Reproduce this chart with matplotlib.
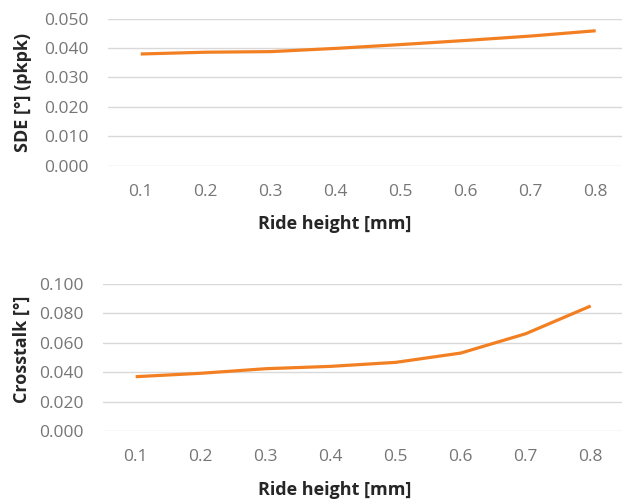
import matplotlib.pyplot as plt
import numpy as np

plt.rcParams['font.family'] = ['Open Sans', 'DejaVu Sans']

# Data
ride_height = ['0.1', '0.2', '0.3', '0.4', '0.5', '0.6', '0.7', '0.8']
sde = [0.0380, 0.0386, 0.0388, 0.0399, 0.0412, 0.0426, 0.0441, 0.0459]
crosstalk = [0.0370, 0.0393, 0.0424, 0.0440, 0.0467, 0.0530, 0.0661, 0.0849]

orange = '#F28022'
grid_col = '#D9D9D9'
tick_col = '#767676'
label_col = '#262626'

W, H = 622, 500
fig = plt.figure(figsize=(W / 100, H / 100), dpi=100)
# axes placed in pixels (plot area runs a little past the right edge)
ax1 = fig.add_axes([108.2 / W, 1 - 165.7 / H, 520 / W, 147 / H])
ax2 = fig.add_axes([103.2 / W, 1 - 431.3 / H, 520 / W, 147.6 / H])

x = np.arange(len(ride_height))


def style(ax, values, ymax, ystep):
    ax.plot(x, values, color=orange, linewidth=2.3, clip_on=False,
            solid_capstyle='butt', zorder=3)
    ax.set_xlim(-0.5, 7.5)
    ax.set_ylim(0, ymax)
    yt = np.arange(0, ymax + ystep / 2, ystep)
    ax.set_yticks(yt)
    ax.set_yticklabels([f'{v:.3f}' for v in yt])
    ax.set_xticks(x)
    ax.set_xticklabels(ride_height)
    ax.grid(axis='y', color=grid_col, linewidth=1.0)
    ax.set_axisbelow(True)
    for s in ax.spines.values():
        s.set_visible(False)
    ax.tick_params(axis='both', length=0, labelsize=12.5, labelcolor=tick_col)
    ax.tick_params(axis='x', pad=13)
    ax.tick_params(axis='y', pad=14)


style(ax1, sde, 0.05, 0.01)
style(ax2, crosstalk, 0.1, 0.02)

lab = dict(fontsize=13, fontweight='bold', color=label_col)
fig.text(335 / W, 1 - 229 / H, 'Ride height [mm]', ha='center', va='baseline', **lab)
fig.text(335 / W, 1 - 495 / H, 'Ride height [mm]', ha='center', va='baseline', **lab)
fig.text(23 / W, 1 - 92 / H, 'SDE [°] (pkpk)', rotation=90, ha='center', va='center', **lab)
fig.text(22 / W, 1 - 349 / H, 'Crosstalk [°]', rotation=90, ha='center', va='center', **lab)

fig.savefig('out.png', dpi=100)
